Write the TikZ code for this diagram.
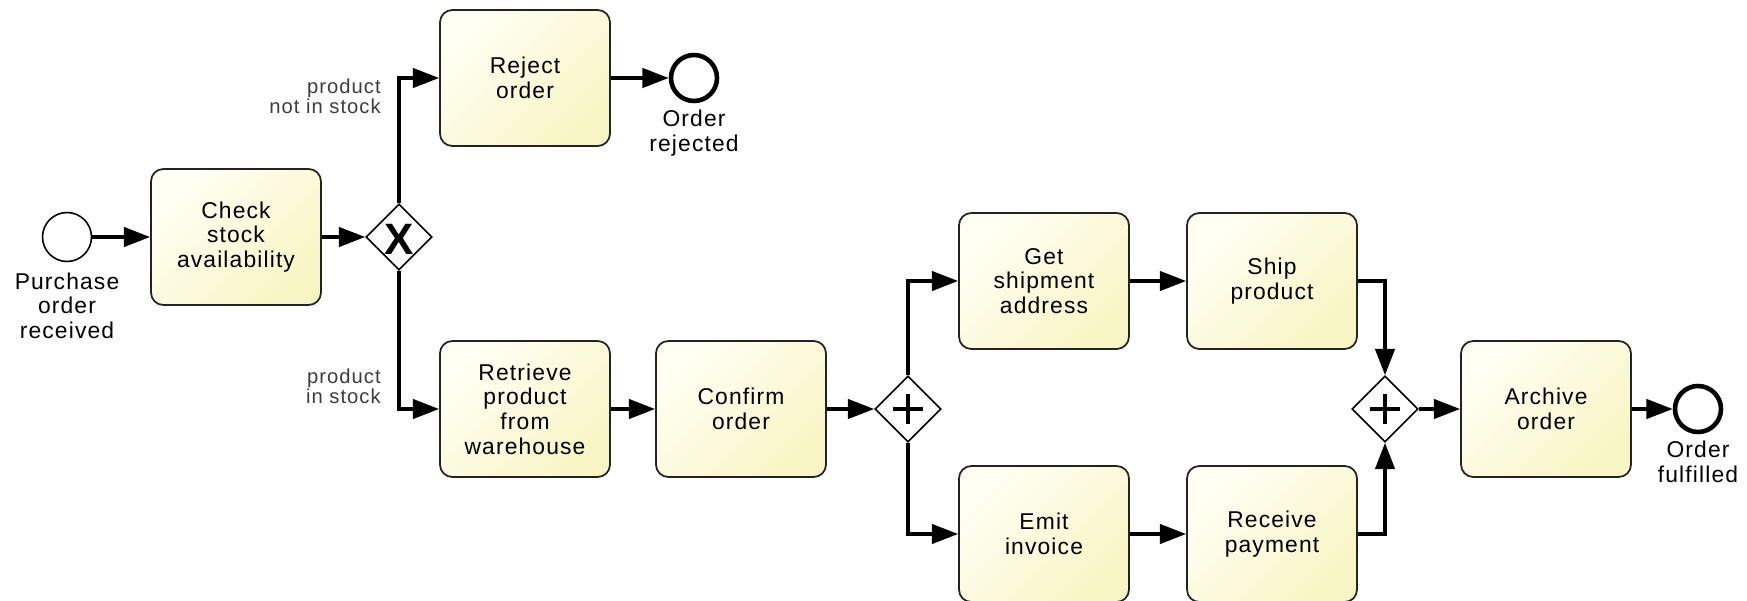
\documentclass[tikz,border=0pt]{standalone}
\usepackage{fontspec}
\setmainfont[LetterSpace=5]{Liberation Sans}
\usetikzlibrary{positioning,calc}
\usetikzlibrary{arrows.meta,shapes.geometric}
\definecolor{TaskLight}{RGB}{255,255,244}
\definecolor{TaskDark}{RGB}{248,245,196}
\definecolor{TaskLine}{RGB}{35,35,35}
\definecolor{CondGray}{RGB}{60,60,60}
\tikzset{
	task/.style={rectangle,rounded corners=7pt,draw=TaskLine,line width=1pt,
		top color=TaskLight,bottom color=TaskDark,shading angle=45,
		minimum width=3.4cm,minimum height=2.72cm,align=center,inner sep=2pt,
		font=\fontsize{13}{14}\selectfont},
	startev/.style={circle,draw=black,fill=white,line width=0.9pt,minimum size=0.98cm,inner sep=0pt},
	endev/.style={circle,draw=black,fill=white,line width=2.6pt,minimum size=0.92cm,inner sep=0pt},
	evlabel/.style={align=center,inner sep=0pt,font=\fontsize{13}{14}\selectfont},
	cond/.style={align=right,inner sep=0pt,anchor=east,text=CondGray,font=\fontsize{11.5}{11.5}\selectfont},
	gateway/.style={diamond,aspect=1,draw=black,fill=white,line width=0.9pt,minimum size=1.32cm,inner sep=0pt},
	flow/.style={draw=black,line width=2pt,-{Triangle[length=15pt,width=11pt]}},
	plusmark/.style={line width=2.8pt},
}

\begin{document}
\begin{tikzpicture}[x=0.02cm,y=-0.02cm]
	\useasboundingbox (0,0) rectangle (1747,601);
	% events
	\node[startev] (start) at (67,237) {};
	\node[endev] (rejected) at (694,78) {};
	\node[endev] (fulfilled) at (1698,409) {};
	\node[evlabel,below=0.2cm of start] (startlbl) {Purchase\\order\\received};
	\node[evlabel,below=0.13cm of rejected] (rejectedlbl) {Order\\rejected};
	\node[evlabel,below=0.13cm of fulfilled] (fulfilledlbl) {Order\\fulfilled};
	% tasks
	\foreach \n/\x/\y/\t in {check/236/237/{Check\\stock\\availability},
		reject/525/78/{Reject\\order},
		retrieve/525/409/{Retrieve\\product\\from\\warehouse},
		confirm/741/409/{Confirm\\order},
		address/1044/281/{Get\\shipment\\address},
		ship/1272/281/{Ship\\product},
		invoice/1044/534/{Emit\\invoice},
		payment/1272/534/{Receive\\payment},
		archive/1546/409/{Archive\\order}}
	\node[task] (\n) at (\x,\y) {\t};
	% gateways
	\node[gateway] (split) at (399,237) {};
	\node[gateway] (fork) at (908,409) {};
	\node[gateway] (join) at (1385,409) {};
	\node[inner sep=0pt,font=\fontsize{25}{25}\selectfont\bfseries] (splitmark) at ($(split)+(0,2)$) {X};
	\foreach \g in {fork,join}{
		\draw[plusmark] ($(\g)+(-15,0)$) -- ($(\g)+(15,0)$);
		\draw[plusmark] ($(\g)+(0,-15)$) -- ($(\g)+(0,15)$);
	}
	% conditions
	\node[cond] (notinstock) at (381,96) {product\\not in stock};
	\node[cond] (instock) at (381,386) {product\\in stock};
	% flows
	\foreach \a/\b in {start/check,check/split,reject/rejected,retrieve/confirm,confirm/fork,
		address/ship,invoice/payment,join/archive,archive/fulfilled}
	\draw[flow] (\a) -- (\b);
	\draw[flow] (split.north) |- (reject);
	\draw[flow] (split.south) |- (retrieve);
	\draw[flow] (fork.north) |- (address);
	\draw[flow] (fork.south) |- (invoice);
	\draw[flow] (ship) -| (join.north);
	\draw[flow] (payment) -| (join.south);
\end{tikzpicture}
\end{document}
